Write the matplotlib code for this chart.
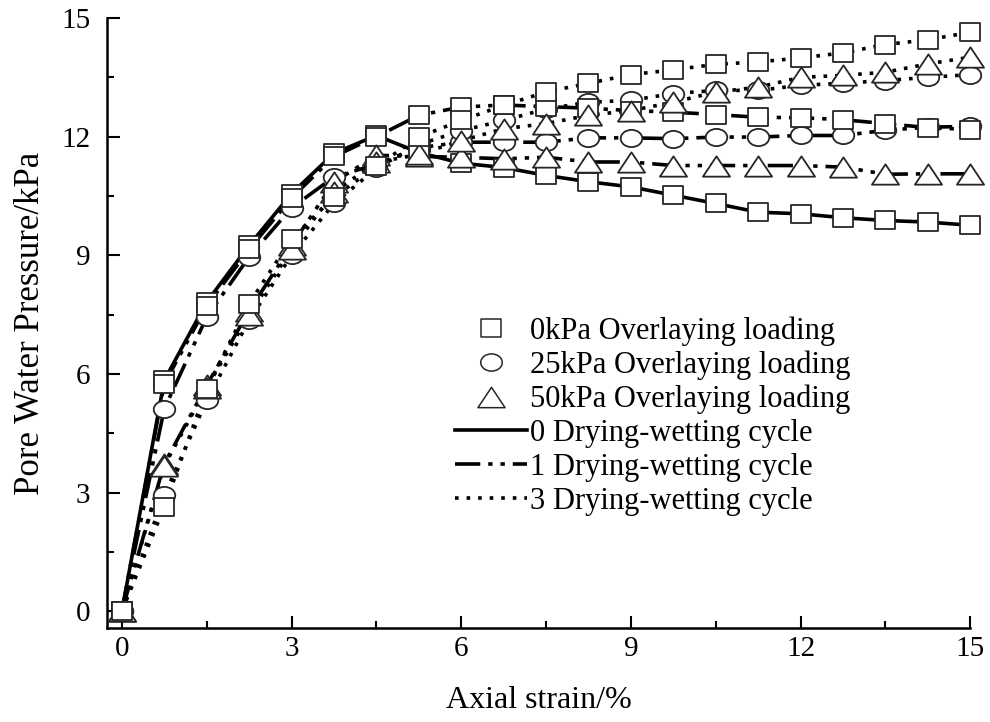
import matplotlib
matplotlib.use("Agg")
import matplotlib.pyplot as plt
from matplotlib.lines import Line2D
from matplotlib.path import Path
from matplotlib.ticker import MultipleLocator

plt.rcParams["font.family"] = ["Liberation Serif", "DejaVu Serif"]

# axial strain (%) at each reading
strain = [0, 0.75, 1.5, 2.25, 3, 3.75, 4.5, 5.25, 6, 6.75, 7.5,
          8.25, 9, 9.75, 10.5, 11.25, 12, 12.75, 13.5, 14.25, 15]

# pore water pressure (kPa)
p0_cycle0 = [0, 5.84, 7.82, 9.25, 10.56, 11.58, 12.03, 11.6, 11.33, 11.22, 11.02,
             10.86, 10.73, 10.52, 10.31, 10.09, 10.05, 9.95, 9.88, 9.84, 9.76]
p0_cycle1 = [0, 5.75, 7.72, 9.15, 10.45, 11.5, 12.0, 12.54, 12.75, 12.8, 12.76,
             12.72, 12.66, 12.62, 12.56, 12.49, 12.48, 12.43, 12.33, 12.23, 12.18]
p0_cycle3 = [0, 2.64, 5.63, 7.78, 9.42, 10.47, 11.25, 11.99, 12.41, 12.79, 13.13,
             13.35, 13.57, 13.69, 13.83, 13.89, 13.99, 14.12, 14.33, 14.45, 14.64]
p25_cycle1 = [0, 5.12, 7.44, 8.96, 10.2, 10.98, 11.3, 11.72, 11.86, 11.86, 11.86,
              11.97, 11.97, 11.95, 11.99, 11.99, 12.03, 12.03, 12.16, 12.24, 12.26]
p25_cycle3 = [0, 2.93, 5.33, 7.36, 9.0, 10.31, 11.2, 11.8, 12.15, 12.41, 12.7,
              12.87, 12.92, 13.09, 13.17, 13.17, 13.3, 13.35, 13.42, 13.5, 13.57]
p50_cycle1 = [0, 3.73, 5.71, 7.6, 9.25, 10.85, 11.53, 11.5, 11.48, 11.44, 11.48,
              11.36, 11.36, 11.27, 11.27, 11.27, 11.27, 11.23, 11.05, 11.06, 11.06]
p50_cycle3 = [0, 3.68, 5.65, 7.5, 9.15, 10.6, 11.35, 11.55, 11.9, 12.2, 12.33,
              12.54, 12.66, 12.87, 13.13, 13.25, 13.5, 13.55, 13.63, 13.84, 14.01]

load_labels = ["0kPa Overlaying loading", "25kPa Overlaying loading",
               "50kPa Overlaying loading"]
cycle_labels = ["0 Drying-wetting cycle", "1 Drying-wetting cycle",
                "3 Drying-wetting cycle"]

# slightly flattened markers, as in the original figure
SQUARE = Path([(-1, -0.88), (1, -0.88), (1, 0.88), (-1, 0.88), (-1, -0.88)], closed=True)
_circ = Path.unit_circle()
CIRCLE = Path(_circ.vertices * [1, 0.8], _circ.codes)
TRIANGLE = Path([(0, 0.75), (-1, -0.75), (1, -0.75), (0, 0.75)], closed=True)

MARKERS = [(SQUARE, 14), (CIRCLE, 15.5), (TRIANGLE, 19.5)]
LINESTYLES = ["-", (0, (7, 2.2, 1.2, 2.2, 1.2, 2.2)), (0, (1, 2.2))]
LW = 2.6
EDGE = "#262626"

# (values, load index, cycle index) in drawing order
series = [
    (p25_cycle1, 1, 1),
    (p25_cycle3, 1, 2),
    (p0_cycle0, 0, 0),
    (p0_cycle1, 0, 1),
    (p50_cycle1, 2, 1),
    (p50_cycle3, 2, 2),
    (p0_cycle3, 0, 2),
]

fig = plt.figure(figsize=(9.9, 7.22), dpi=100)
ax = fig.add_axes([0.108, 0.130, 0.872, 0.845])

for vals, _, cyc in series:
    ax.plot(strain, vals, color="black", lw=LW, ls=LINESTYLES[cyc], zorder=2)
for i, (vals, load, _) in enumerate(series):
    mk, ms = MARKERS[load]
    ax.plot(strain, vals, ls="none", marker=mk, ms=ms, mfc="white",
            mec=EDGE, mew=1.3, zorder=3 + i, clip_on=False)

ax.set_xlim(-0.265, 15)
ax.set_ylim(-0.43, 15)
ax.xaxis.set_major_locator(MultipleLocator(3))
ax.xaxis.set_minor_locator(MultipleLocator(1.5))
ax.yaxis.set_major_locator(MultipleLocator(3))
ax.yaxis.set_minor_locator(MultipleLocator(1.5))
ax.tick_params(which="both", direction="in", width=1.5, labelsize=21)
ax.tick_params(which="major", length=9)
ax.tick_params(which="minor", length=5)
ax.tick_params(axis="y", pad=12)
ax.tick_params(axis="x", pad=6)
for side in ("top", "right"):
    ax.spines[side].set_visible(False)
for side in ("left", "bottom"):
    ax.spines[side].set_linewidth(1.8)

ax.set_xlabel("Axial strain/%", fontsize=23, labelpad=17)
ax.set_ylabel("Pore Water Pressure/kPa", fontsize=25, labelpad=10)

handles = [Line2D([], [], ls="none", marker=mk, ms=ms, mfc="white", mec=EDGE, mew=1.1)
           for mk, ms in MARKERS]
handles += [Line2D([], [], color="black", lw=LW, ls=ls) for ls in LINESTYLES]
ax.legend(handles, load_labels + cycle_labels, loc="upper left",
          bbox_to_anchor=(455 / 990, 1 - 316 / 722), bbox_transform=fig.transFigure,
          frameon=False, fontsize=22, handlelength=2.35, handletextpad=0.1,
          labelspacing=0.16, borderpad=0, borderaxespad=0)

fig.savefig("out.png", dpi=100)
